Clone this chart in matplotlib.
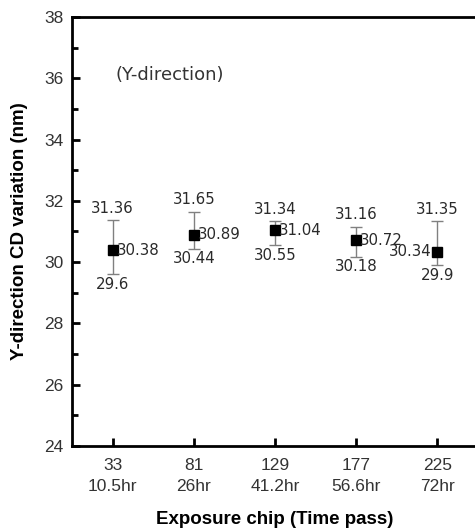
import matplotlib
matplotlib.use("Agg")
import matplotlib.pyplot as plt
from matplotlib.ticker import MultipleLocator

chips = [33, 81, 129, 177, 225]
hours = ["10.5hr", "26hr", "41.2hr", "56.6hr", "72hr"]
means = [30.38, 30.89, 31.04, 30.72, 30.34]
uppers = [31.36, 31.65, 31.34, 31.16, 31.35]
lowers = [29.6, 30.44, 30.55, 30.18, 29.9]

plt.rcParams['font.family'] = ['Liberation Sans', 'DejaVu Sans']

fig = plt.figure(figsize=(4.75, 5.31), dpi=100)
ax = fig.add_axes([72/475, 1-446/531, 406/475, 429/531])

yerr = [[m - l for m, l in zip(means, lowers)], [u - m for m, u in zip(means, uppers)]]
ax.errorbar(chips, means, yerr=yerr, fmt='s', color='black', markersize=6.5,
            ecolor='#808080', elinewidth=1, capsize=4, capthick=1)

lab_font = dict(family=['DejaVu Sans'], fontsize=10.8, color='#2a2a2a')
for i, (x, m, u, l) in enumerate(zip(chips, means, uppers, lowers)):
    ax.annotate(f"{u:g}", (x, u), xytext=(0, 3), textcoords='offset points',
                ha='center', va='bottom', **lab_font)
    ax.annotate(f"{l:g}", (x, l), xytext=(0, -2), textcoords='offset points',
                ha='center', va='top', **lab_font)
    if i == len(chips) - 1:
        ax.annotate(f"{m:g}", (x, m), xytext=(-4, 0), textcoords='offset points',
                    ha='right', va='center', **lab_font)
    else:
        ax.annotate(f"{m:g}", (x, m), xytext=(3, 0), textcoords='offset points',
                    ha='left', va='center', **lab_font)

ax.text(0.108, 0.865, "(Y-direction)", transform=ax.transAxes, ha='left', va='center',
        family=['DejaVu Sans'], fontsize=13, color='#333333')

ax.set_xlim(9, 249)
ax.set_ylim(24, 38)
ax.set_xticks(chips)
ax.set_xticklabels([f"{c}\n{h}" for c, h in zip(chips, hours)], linespacing=1.45)
ax.yaxis.set_major_locator(MultipleLocator(2))
ax.yaxis.set_minor_locator(MultipleLocator(1))
ax.tick_params(axis='both', which='major', direction='in', length=6, width=2,
               labelsize=12.5, labelcolor='#333333', pad=6)
ax.tick_params(axis='x', which='major', pad=9)
ax.tick_params(axis='y', which='minor', direction='in', length=4, width=2)
ax.tick_params(axis='x', which='minor', bottom=False)
for s in ax.spines.values():
    s.set_linewidth(2)

ax.set_xlabel("Exposure chip (Time pass)", fontweight='bold', fontsize=13.5, labelpad=12)
ax.set_ylabel("Y-direction CD variation (nm)", fontweight='bold', fontsize=13.5, labelpad=12)

fig.savefig("out.png", dpi=100)
